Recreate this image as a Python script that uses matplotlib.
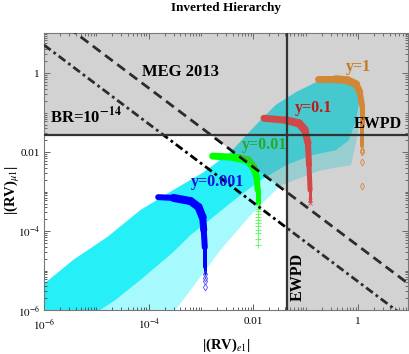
import numpy as np
import matplotlib.pyplot as plt
from matplotlib.ticker import FixedLocator, LogLocator, NullFormatter

plt.rcParams['font.family'] = ['Liberation Serif', 'DejaVu Serif']
plt.rcParams['mathtext.fontset'] = 'stix'

# axis range and limits
x_range = [1e-6, 10 ** 0.95]
y_range = [1e-6, 10 ** 1.02]
ewpd_x = 0.043      # vertical EWPD bound on |(RV)_e1|
ewpd_y = 0.0275     # horizontal EWPD bound on |(RV)_mu1|
meg_x = [1e-6, 10.0]
meg_y = [42.0, 4.2e-6]      # MEG 2013, x*y = 4.2e-5
br_x = [1e-6, 10.0]
br_y = [5.2, 5.2e-7]        # BR = 1e-14, x*y = 5.2e-6

# scan cloud (cyan) envelope, log10 values
cloud_lx = [-6.00, -5.44, -4.79, -4.16, -3.53, -2.95, -2.44, -1.96, -1.58, -1.19,
            -0.81, -0.33, -0.04, 0.02, -0.04, -0.18, -0.43, -0.90, -1.38, -1.86,
            -2.25, -2.72, -3.20, -3.53, -4.16, -4.64, -4.93, -6.00]
cloud_ly = [-5.34, -4.73, -4.15, -3.47, -2.96, -2.51, -2.00, -1.32, -0.81, -0.48,
            -0.23, -0.15, -0.33, -0.68, -1.19, -1.70, -1.95, -2.08, -2.33, -2.71,
            -3.09, -3.59, -4.10, -4.53, -5.24, -5.75, -6.00, -6.00]
halo_lx = [-6.00, -5.44, -4.79, -4.16, -3.53, -2.95, -2.44, -1.96, -1.58, -1.19,
           -0.81, -0.33, -0.04, 0.05, 0.0, -0.14, -0.71, -1.48, -2.05, -2.63,
           -3.20, -3.49, -6.00]
halo_ly = [-5.34, -4.73, -4.15, -3.47, -2.96, -2.51, -2.00, -1.32, -0.81, -0.48,
           -0.23, -0.15, -0.33, -0.68, -1.5, -2.33, -2.46, -2.84, -3.59, -4.48,
           -5.49, -6.00, -6.00]

# fixed-y curves: centre line (log10) and marker tails
blue_lx = [-3.82, -3.53, -3.20, -3.05, -2.97, -2.95, -2.93, -2.93, -2.93]
blue_ly = [-3.14, -3.16, -3.24, -3.39, -3.65, -3.97, -4.41, -4.91, -5.05]
blue_tail_ly = [-5.10, -5.18, -5.26, -5.42]
green_lx = [-2.78, -2.38, -2.11, -2.00, -1.94, -1.92, -1.92]
green_ly = [-2.10, -2.13, -2.20, -2.38, -2.63, -2.96, -3.29]
green_tail_ly = [-3.35, -3.43, -3.50, -3.57, -3.65, -3.72, -3.80, -3.88, -3.96,
                 -4.05, -4.20, -4.35]
red_lx = [-1.80, -1.38, -1.13, -1.02, -0.96, -0.94, -0.92, -0.92]
red_ly = [-1.14, -1.19, -1.27, -1.44, -1.77, -2.33, -2.96, -3.25]
red_tail_ly = [-3.22, -3.28]
orange_lx = [-0.77, -0.43, -0.20, -0.04, 0.03, 0.07, 0.07, 0.07]
orange_ly = [-0.15, -0.15, -0.18, -0.28, -0.48, -0.81, -1.32, -1.85]
orange_tail_ly = [-1.95, -2.0, -2.25, -2.86]

fig = plt.figure(figsize=(4.09, 3.54), dpi=100)
ax = fig.add_axes([44 / 409, 1 - 310 / 354, 364 / 409, 277 / 354])
ax.set_xscale('log')
ax.set_yscale('log')
ax.set_xlim(x_range)
ax.set_ylim(y_range)

p10 = lambda v: 10.0 ** np.array(v)

ax.fill(p10(halo_lx), p10(halo_ly), color='#00f0f8', alpha=0.35, lw=0, zorder=1)
ax.fill(p10(cloud_lx), p10(cloud_ly), color='#10eef8', alpha=0.85, lw=0, zorder=1)


def hook(lx, ly, widths, color):
    x, y = p10(lx), p10(ly)
    for i in range(len(x) - 1):
        ax.plot(x[i:i + 2], y[i:i + 2], color=color, lw=widths[i] * 0.72,
                solid_capstyle='round', zorder=2)


hook(blue_lx, blue_ly, [6, 8, 8, 8, 7, 6, 4, 3], '#0000ff')
hook(green_lx, green_ly, [7, 8, 8, 7, 6, 5], '#00ff00')
hook(red_lx, red_ly, [7, 8, 8, 7, 6, 5, 3], '#ff2a2a')
hook(orange_lx, orange_ly, [7, 8, 8, 7, 6, 5, 4], '#ff8c10')

ax.plot(p10([blue_lx[-1]] * len(blue_tail_ly)), p10(blue_tail_ly), 'd', ms=3.5,
        mfc='none', mec='#5050ff', mew=0.6, zorder=2)
ax.plot(p10([green_lx[-1]] * len(green_tail_ly)), p10(green_tail_ly), '+', ms=5,
        mec='#60ff60', mew=0.7, zorder=2)
ax.plot(p10([red_lx[-1]] * len(red_tail_ly)), p10(red_tail_ly), 'x', ms=2.5,
        mec='#ff3030', mew=0.6, zorder=2)
ax.plot(p10([orange_lx[-1]] * len(orange_tail_ly)), p10(orange_tail_ly), 'd', ms=3.5,
        mfc='none', mec='#ff8c10', mew=0.6, zorder=2)

# limit lines
ax.plot(meg_x, meg_y, color='black', lw=2.0, dashes=(3.5, 2), zorder=3)
ax.plot(br_x, br_y, color='black', lw=2.0, dashes=(3, 1.3, 1, 1.3), zorder=3)

# excluded region, grey veil
xv = ewpd_x
yv = ewpd_y
c = meg_y[0] * meg_x[0]
shade_x = [x_range[0], c / yv, xv, xv, x_range[1], x_range[1], x_range[0]]
shade_y = [yv, yv, c / xv, y_range[0], y_range[0], y_range[1], y_range[1]]
ax.fill(shade_x, shade_y, color='#808080', alpha=0.35, lw=0, zorder=4)
ax.axvline(ewpd_x, color='#333333', lw=1.6, zorder=5)
ax.axhline(ewpd_y, color='#333333', lw=1.6, zorder=5)

bold = dict(fontweight='bold', zorder=6)
ax.text(p10(-3.39), p10(0.025), 'MEG 2013', fontsize=12, ha='center', va='center', **bold)
ax.text(p10(-5.885), p10(-1.09), r'BR=10$^{\mathbf{-14}}$', fontsize=12,
        ha='left', va='center', **bold)
ax.text(p10(0.38), p10(-1.29), 'EWPD', fontsize=11.5, ha='center', va='center', **bold)
ax.text(p10(-1.15), p10(-5.16), 'EWPD', fontsize=11.5, ha='center', va='center',
        rotation=90, **bold)
ax.text(p10(0.0), p10(0.15), 'y=1', color='#c8781e', fontsize=11.5,
        ha='center', va='center', **bold)
ax.text(p10(-0.85), p10(-0.89), 'y=0.1', color='#c01818', fontsize=11.5,
        ha='center', va='center', **bold)
ax.text(p10(-1.79), p10(-1.82), 'y=0.01', color='#28a828', fontsize=11.5,
        ha='center', va='center', **bold)
ax.text(p10(-2.69), p10(-2.76), 'y=0.001', color='#1010e0', fontsize=11.5,
        ha='center', va='center', **bold)

# ticks
major = [1e-6, 1e-4, 1e-2, 1]
labels = [r'$10^{-6}$', r'$10^{-4}$', '0.01', '1']
for axis in (ax.xaxis, ax.yaxis):
    axis.set_major_locator(FixedLocator(major))
    axis.set_minor_locator(LogLocator(base=10, subs=np.arange(1, 10), numticks=30))
    axis.set_minor_formatter(NullFormatter())
ax.set_xticklabels(labels)
ax.set_yticklabels(labels)
ax.tick_params(which='both', direction='in', top=True, right=True, color='#444444',
               labelsize=8, width=0.6)
ax.tick_params(which='major', length=4)
ax.tick_params(which='minor', length=2)
ax.tick_params(axis='x', which='major', pad=5)
ax.tick_params(axis='y', which='major', pad=3)
for s in ax.spines.values():
    s.set_color('#777777')
    s.set_linewidth(0.8)

fig.text(226 / 409, 1 - 8 / 354, 'Inverted Hierarchy', ha='center', va='center',
         fontsize=9.5, fontweight='bold')
fig.text(226 / 409, 1 - 345 / 354, r'|(RV)$_{e1}$|', ha='center', va='center',
         fontsize=10.5, fontweight='bold')
fig.text(12 / 409, 1 - 190 / 354, r'|(RV)$_{\mu1}$|', ha='center', va='center',
         fontsize=10.5, fontweight='bold', rotation=90)

fig.savefig('out.png', dpi=100)
